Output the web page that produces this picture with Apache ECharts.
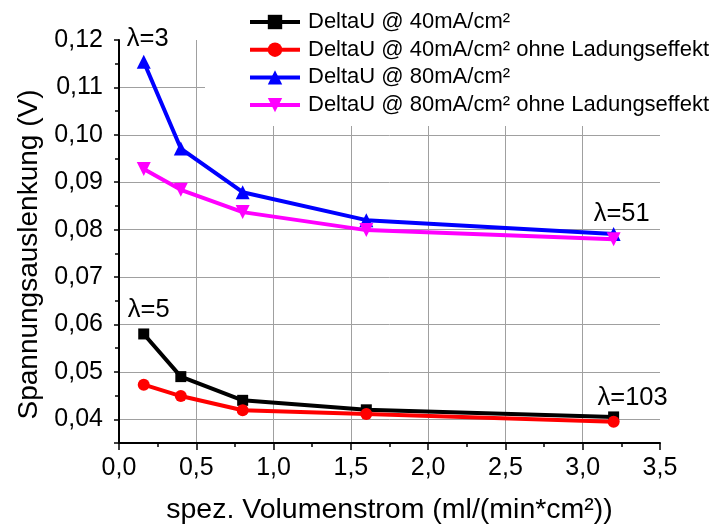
<!DOCTYPE html>
<html>
<head>
<meta charset="utf-8">
<script src="https://cdn.jsdelivr.net/npm/echarts@6/dist/echarts.min.js"></script>
<style>html,body{margin:0;padding:0;background:#fff}#c{width:720px;height:530px}</style>
</head>
<body>
<div id="c"></div>
<script>
var xValues = [0.16, 0.4, 0.8, 1.6, 3.2];
var seriesNames = [
  'DeltaU @ 40mA/cm²',
  'DeltaU @ 40mA/cm² ohne Ladungseffekt',
  'DeltaU @ 80mA/cm²',
  'DeltaU @ 80mA/cm² ohne Ladungseffekt'
];
var du40 = [0.058, 0.049, 0.044, 0.042, 0.0405];
var du40ohne = [0.0473, 0.0449, 0.0419, 0.0411, 0.0395];
var du80 = [0.1154, 0.0971, 0.0879, 0.0820, 0.0791];
var du80ohne = [0.0928, 0.0884, 0.0837, 0.0799, 0.0780];
var annotations = [
  {series: 2, index: 0, text: 'λ=3'},
  {series: 0, index: 0, text: 'λ=5'},
  {series: 2, index: 4, text: 'λ=51'},
  {series: 0, index: 4, text: 'λ=103'}
];
var xAxisTitle = 'spez. Volumenstrom (ml/(min*cm²))';
var yAxisTitle = 'Spannungsauslenkung (V)';

var FONT = 'Liberation Sans, Arial, sans-serif';
var colors = ['#000000', '#ff0000', '#0000ff', '#ff00ff'];
var symbols = ['rect', 'circle', 'triangle', 'triangle'];
var symbolSizes = [11, 12, 14, 14];
var symbolRotates = [0, 0, 0, 180];
var labelStyles = {
  'λ=3': {distance: 3, offset: [4, 0]},
  'λ=5': {distance: 5, offset: [5, 0]},
  'λ=51': {distance: 0, offset: [8, 0]},
  'λ=103': {distance: 0, offset: [19, 0]}
};
var allValues = [du40, du40ohne, du80, du80ohne];

var series = allValues.map(function (vals, si) {
  var data = vals.map(function (v, i) {
    var item = {value: [xValues[i], v]};
    annotations.forEach(function (a) {
      if (a.series === si && a.index === i) {
        var st = labelStyles[a.text];
        item.label = {
          show: true, position: 'top', formatter: a.text,
          distance: st.distance, offset: st.offset,
          color: '#000', fontSize: 25.5, fontFamily: FONT
        };
      }
    });
    return item;
  });
  return {
    name: seriesNames[si],
    type: 'line',
    data: data,
    symbol: symbols[si],
    symbolSize: symbolSizes[si],
    symbolRotate: symbolRotates[si],
    showAllSymbol: true,
    animation: false,
    clip: false,
    itemStyle: {color: colors[si]},
    lineStyle: {color: colors[si], width: 4},
    emphasis: {disabled: true},
    z: 3 + si
  };
});

var chart = echarts.init(document.getElementById('c'), null, {renderer: 'canvas'});
chart.setOption({
  animation: false,
  backgroundColor: '#ffffff',
  textStyle: {fontFamily: FONT},
  grid: {left: 119, right: 60, top: 40, bottom: 86, containLabel: false},
  legend: {
    orient: 'vertical',
    left: 205, top: 0,
    padding: [11, 4, 10, 43],
    backgroundColor: '#ffffff',
    itemWidth: 50, itemHeight: 18,
    itemGap: 5.7,
    selectedMode: false,
    lineStyle: {width: 4},
    textStyle: {fontSize: 22, fontFamily: FONT, color: '#000', lineHeight: 22, padding: [0, 0, 0, 3]},
    data: seriesNames,
    z: 10
  },
  xAxis: {
    type: 'value', min: 0, max: 3.5, interval: 0.5,
    name: xAxisTitle, nameLocation: 'middle', nameGap: 53,
    nameTextStyle: {fontSize: 28.5, color: '#000', fontFamily: FONT},
    axisLine: {show: true, onZero: false, lineStyle: {color: '#000', width: 2}},
    axisTick: {show: true, length: 7, lineStyle: {color: '#000', width: 1.5}},
    minorTick: {show: true, splitNumber: 2, length: 4, lineStyle: {color: '#000', width: 1.5}},
    axisLabel: {fontSize: 25, color: '#000', margin: 13, fontFamily: FONT,
      formatter: function (v) { return v.toFixed(1).replace('.', ','); }},
    splitLine: {show: true, showMinLine: false, showMaxLine: false, lineStyle: {color: '#a0a0a0', width: 1}}
  },
  yAxis: {
    type: 'value', min: 0.035, max: 0.12, splitNumber: 8,
    name: yAxisTitle, nameLocation: 'middle', nameGap: 76,
    nameTextStyle: {fontSize: 28, color: '#000', fontFamily: FONT, padding: [0, 26, 0, 0]},
    axisLine: {show: true, onZero: false, lineStyle: {color: '#000', width: 2}},
    axisTick: {show: true, length: 5, lineStyle: {color: '#000', width: 1.5}},
    minorTick: {show: true, splitNumber: 2, length: 4, lineStyle: {color: '#000', width: 1.5}},
    axisLabel: {fontSize: 25, color: '#000', margin: 16, fontFamily: FONT,
      formatter: function (v) {
        if (Math.abs(Math.round(v * 100) - v * 100) > 1e-6) return '';
        return v.toFixed(2).replace('.', ',');
      }},
    splitLine: {show: true, showMinLine: false, showMaxLine: false, lineStyle: {color: '#a0a0a0', width: 1}}
  },
  series: series
});
</script>
</body>
</html>
